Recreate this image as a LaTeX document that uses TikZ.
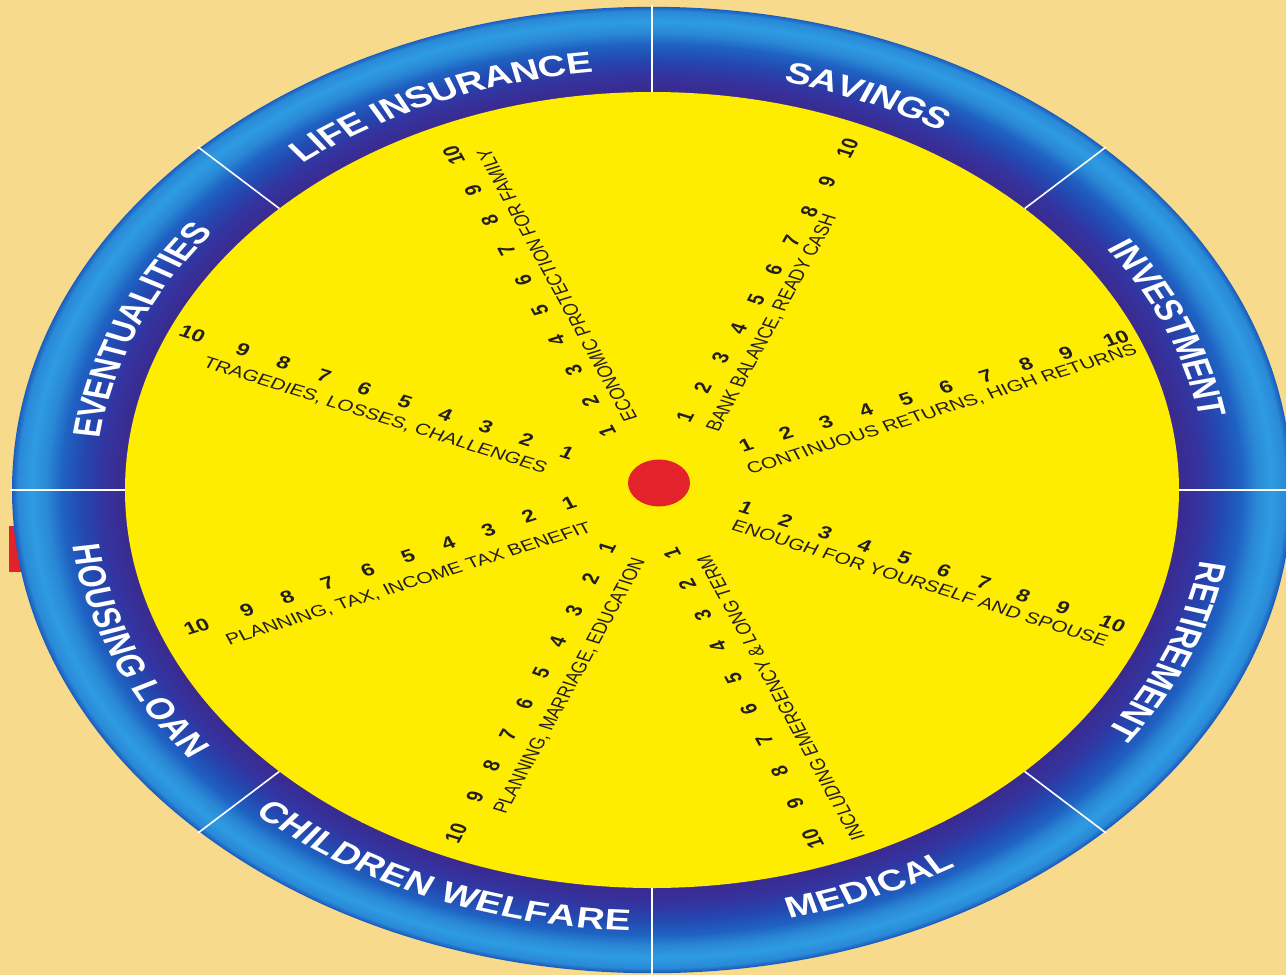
\documentclass[tikz,border=0pt]{standalone}
\usepackage{fontspec}
\setmainfont{Liberation Sans}
\usetikzlibrary{decorations.text}
\definecolor{bg}{HTML}{F8DA8C}
\definecolor{yel}{HTML}{FFED00}
\definecolor{reddot}{HTML}{E3222B}
\definecolor{rcA}{HTML}{1B5EBE}
\definecolor{rcB}{HTML}{2A8AD8}
\definecolor{rcC}{HTML}{2E9CE2}
\definecolor{rcD}{HTML}{2A88D6}
\definecolor{rcE}{HTML}{1F62C2}
\definecolor{rcF}{HTML}{2448B0}
\definecolor{rcG}{HTML}{3434A0}
\definecolor{rcH}{HTML}{3B2A90}
\definecolor{ink}{HTML}{231F20}
\newcommand\ringfont{\fontsize{39}{39}\selectfont\bfseries}
% one band of the ring: #1 outer radius, #2 inner radius, #3 outer colour, #4 inner colour
\newcommand\ringband[4]{%
  \pgfmathtruncatemacro\rnext{#1-1}%
  \foreach \r in {#1,\rnext,...,#2}{%
    \pgfmathsetmacro\p{100*(#1-\r)/(#1-#2)}%
    \pgfmathsetmacro\ry{0.755*\r}%
    \fill[#4!\p!#3] (652,-490) ellipse [x radius=\r, y radius=\ry];
  }}
% #1,#2 = screen pos of 1; #3,#4 = screen pos of 9; #5 = step index of 10; #6 = rotation; #7 = name
\newcommand\spokenums[7]{%
  \foreach \i in {1,...,10}{%
    \pgfmathsetmacro\k{\i==10 ? #5 : \i-1}%
    \pgfmathsetmacro\u{#1+\k*(#3-#1)/8-652}%
    \pgfmathsetmacro\v{(490-(#2+\k*(#4-#2)/8))/0.755}%
    \node[num, rotate=#6] (#7\i) at (\u,\v) {\i};
  }}
\begin{document}
\begin{tikzpicture}[x=1pt,y=1pt,
  num/.style={font=\fontsize{23}{23}\selectfont\bfseries, text=ink, inner sep=0pt, transform shape},
  lab/.style={font=\fontsize{21}{21}\selectfont, text=ink, inner sep=0pt, transform shape},
  divider/.style={draw=white, line width=1.6pt},
  ringlab/.style={decorate, decoration={text along path, text={|\ringfont|#1}, text color=white, text align=center, raise=-14pt}}]
\useasboundingbox (0,0) rectangle (1286,-975);
\clip (0,0) rectangle (1286,-975);
\fill[bg] (0,0) rectangle (1286,-975);
\fill[reddot] (9,-526) rectangle (34,-572);
% ring, shaded from the outer edge in
\ringband{640}{634}{rcA}{rcB}
\ringband{634}{620}{rcB}{rcC}
\ringband{620}{605}{rcC}{rcD}
\ringband{605}{590}{rcD}{rcE}
\ringband{590}{570}{rcE}{rcF}
\ringband{570}{550}{rcF}{rcG}
\ringband{550}{528}{rcG}{rcH}
\fill[yel] (652,-490) ellipse [x radius=527, y radius=398];
\foreach \a in {0,45,...,315}
  \draw[divider, shift={(652,-490)}] (\a:527 and 398) -- (\a:642 and 485);
% ring labels, set on the round face and squashed with it
\begin{scope}[transform canvas={shift={(652,-490)}, yscale=0.755}]
\path[ringlab={LIFE INSURANCE}] (135:570) arc[start angle=135, end angle=90, radius=570];
\path[ringlab={SAVINGS}] (90:570) arc[start angle=90, end angle=45, radius=570];
\path[ringlab={INVESTMENT}] (45:570) arc[start angle=45, end angle=0, radius=570];
\path[ringlab={RETIREMENT}] (0:570) arc[start angle=0, end angle=-45, radius=570];
\path[ringlab={EVENTUALITIES}] (180:570) arc[start angle=180, end angle=135, radius=570];
\path[ringlab={HOUSING LOAN}] (-180:570) arc[start angle=-180, end angle=-135, radius=570];
\path[ringlab={CHILDREN WELFARE}] (-135:570) arc[start angle=-135, end angle=-90, radius=570];
\path[ringlab={MEDICAL}] (-90:570) arc[start angle=-90, end angle=-45, radius=570];
\end{scope}
% spokes (drawn on the round face, then squashed)
\begin{scope}[shift={(652,-490)}, yscale=0.755]
\fill[reddot] (7,9.3) circle (31);
\spokenums{567}{453}{243}{350}{9.25}{-22.5}{A}
\spokenums{607}{431}{473}{190}{9.15}{112.5}{B}
\spokenums{685}{417}{827}{182}{9.15}{67.5}{C}
\spokenums{746}{445}{1066}{353}{9.25}{22.5}{D}
\spokenums{746}{508}{1063}{608}{9.25}{-22.5}{E}
\spokenums{672}{553}{795}{803}{9.15}{112.5}{F}
\spokenums{607}{548}{475}{797}{9.15}{67.5}{G}
\spokenums{569}{503}{247}{610}{9.25}{22.5}{H}
\node[lab, rotate=-22.5] (Alab) at ({375-652},{(490-416)/0.755}) {TRAGEDIES, LOSSES, CHALLENGES};
\node[lab, rotate=112.5] (Blab) at ({557-652},{(490-285)/0.755}) {ECONOMIC PROTECTION FOR FAMILY};
\node[lab, rotate=67.5] (Clab) at ({772-652},{(490-323)/0.755}) {BANK BALANCE, READY CASH};
\node[lab, rotate=22.5] (Dlab) at ({942-652},{(490-410)/0.755}) {CONTINUOUS RETURNS, HIGH RETURNS};
\node[lab, rotate=-22.5] (Elab) at ({920-652},{(490-583)/0.755}) {ENOUGH FOR YOURSELF AND SPOUSE};
\node[lab, rotate=112.5] (Flab) at ({781-652},{(490-698)/0.755}) {INCLUDING EMERGENCY \& LONG TERM};
\node[lab, rotate=67.5] (Glab) at ({570-652},{(490-686)/0.755}) {PLANNING, MARRIAGE, EDUCATION};
\node[lab, rotate=22.5] (Hlab) at ({409-652},{(490-584)/0.755}) {PLANNING, TAX, INCOME TAX BENEFIT};
\end{scope}
\end{tikzpicture}
\end{document}
